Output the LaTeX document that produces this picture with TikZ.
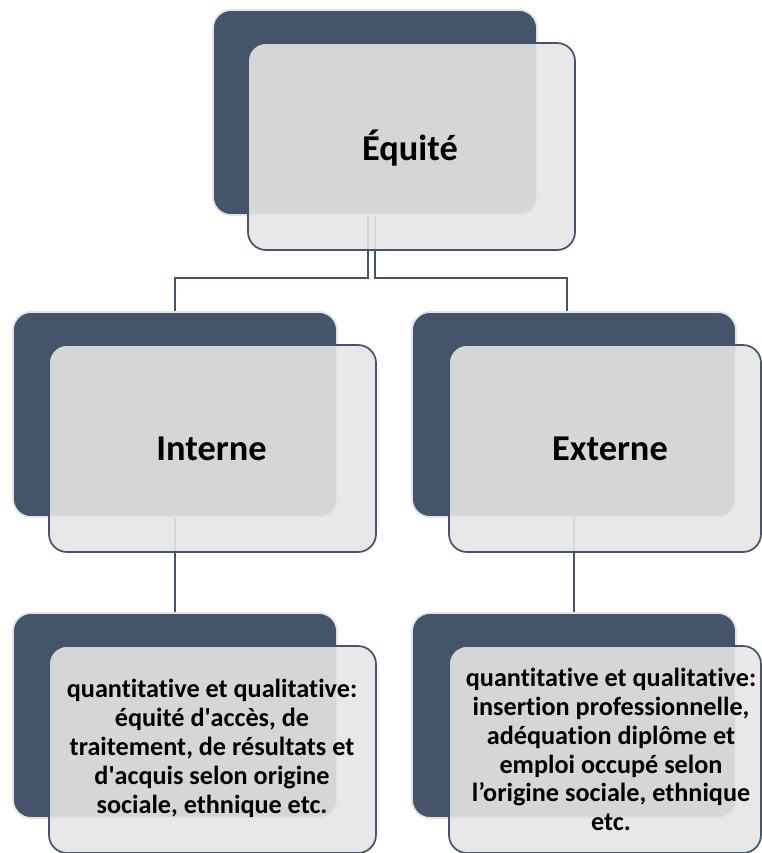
\documentclass[tikz,border=0pt]{standalone}
\usepackage{fontspec}
\setmainfont{Carlito}[Ligatures={TeX,NoCommon}]
\definecolor{slate}{HTML}{44546A}
\definecolor{lightfill}{HTML}{E5E5E5}
\definecolor{rimgray}{HTML}{E4E4E4}
\pgfdeclarelayer{bg}
\pgfsetlayers{bg,main}
\begin{document}
\begin{tikzpicture}[x=1bp,y=-1bp,
  darkbox/.style={draw=rimgray, line width=1.8bp, fill=slate, rounded corners=18bp,
    minimum width=324bp, minimum height=205bp, inner sep=0pt, outer sep=0pt},
  lightbox/.style={draw=slate, line width=1.7bp, fill=lightfill, fill opacity=0.9,
    text opacity=1, rounded corners=18bp, minimum height=207bp, inner sep=0pt,
    outer sep=0pt, align=center, font=\bfseries},
  conn/.style={draw=slate, line width=2.7bp},
  bigtxt/.style={font=\fontsize{36.5}{40}\selectfont\bfseries},
  smalltxt/.style={font=\fontsize{26.3}{29}\selectfont\bfseries, align=center}]
\useasboundingbox (0,0) rectangle (762,853);

% dark back boxes
\node[darkbox] (d0) at (375,112.5) {};
\node[darkbox] (d1) at (175,414.5) {};
\node[darkbox] (d2) at (574,414.5) {};
\node[darkbox] (d3) at (175,715.5) {};
\node[darkbox] (d4) at (574,715.5) {};

% light front boxes
\node[lightbox, minimum width=327bp] (l0) at (411.5,146.5) {};
\node[lightbox, minimum width=327bp] (l1) at (212.5,448.5) {};
\node[lightbox, minimum width=312bp] (l2) at (605,448.5) {};
\node[lightbox, minimum width=327bp] (l3) at (212.5,749.5) {};
\node[lightbox, minimum width=312bp] (l4) at (605,749.5) {};

% texts
\node[bigtxt] (t0) at (410,148) {Équité};
\node[bigtxt] (t1) at (211.5,448.5) {Interne};
\node[bigtxt] (t2) at (610,448.5) {Externe};
\node[smalltxt] (t3) at (212,748.5) {quantitative et qualitative:\\
 équité d\textquotesingle accès, de\\ traitement, de résultats et\\ d\textquotesingle acquis selon origine\\ sociale, ethnique etc.};
\node[smalltxt] (t4) at (611,749.5) {quantitative et qualitative:\\
 insertion professionnelle,\\ adéquation diplôme et\\ emploi occupé selon\\ l’origine sociale, ethnique\\ etc.};

% connectors (behind boxes)
\begin{pgfonlayer}{bg}
\draw[conn] ([xshift=-7bp]d0.south) -- ++(0,63) -| (d1.north);
\draw[conn] (d0.south) -- ++(0,63) -| ([xshift=-7bp]d2.north);
\draw[conn] (d1.south) -- (d3.north);
\draw[conn] (d2.south) -- (d4.north);
\end{pgfonlayer}
\end{tikzpicture}
\end{document}
